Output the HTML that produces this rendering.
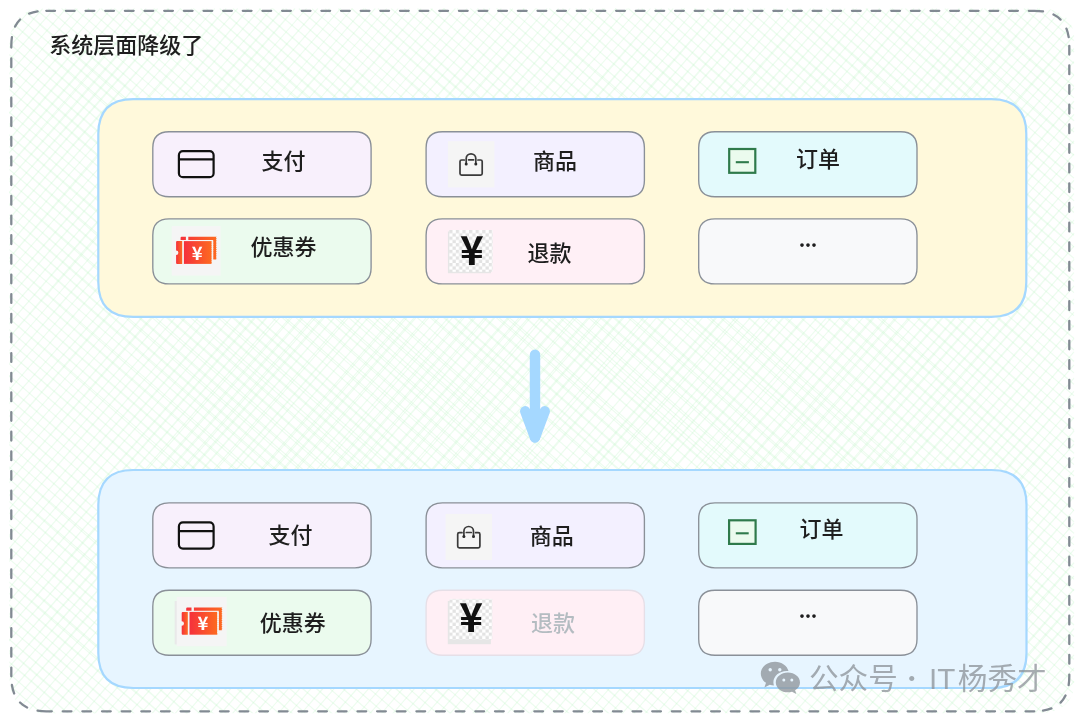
<!DOCTYPE html>
<html lang="zh-CN">
<head>
<meta charset="utf-8">
<title>系统层面降级了</title>
<style>
html,body{margin:0;padding:0;background:#fff;}
body{width:1080px;height:722px;overflow:hidden;font-family:"Liberation Sans","Noto Sans CJK SC",sans-serif;}
svg{display:block;will-change:transform;}
text{font-family:"Liberation Sans","Noto Sans CJK SC",sans-serif;}
.dots{font-family:"Noto Sans CJK SC",sans-serif;font-weight:700;letter-spacing:-0.6px;font-size:20px;}
.yen{font-family:"Noto Sans CJK SC",sans-serif;}
</style>
</head>
<body>
<svg width="1080" height="722" viewBox="0 0 1080 722">
<defs>
  <pattern id="checker" x="449.2" y="230" width="6.6" height="6.6" patternUnits="userSpaceOnUse">
    <rect width="6.6" height="6.6" fill="#ffffff"/>
    <rect width="3.3" height="3.3" fill="#e3e3e3"/>
    <rect x="3.3" y="3.3" width="3.3" height="3.3" fill="#e3e3e3"/>
  </pattern>
  <linearGradient id="tk" x1="0" y1="0" x2="1" y2="0">
    <stop offset="0" stop-color="#f5303c"/>
    <stop offset="1" stop-color="#fd6a20"/>
  </linearGradient>
</defs>
<!-- outer frame -->
<clipPath id="fclip"><path d="M46.3 8.3L1038.3 8.3Q1075.3 8.3 1075.3 45.3L1075.3 676.3Q1075.3 713.3 1038.3 713.3L46.3 713.3Q9.3 713.3 9.3 676.3L9.3 45.3Q9.3 8.3 46.3 8.3Z"/></clipPath>
<g id="frame" clip-path="url(#fclip)" fill="none" stroke="#b2f2bb" stroke-opacity="0.23" stroke-width="1.1">
<path d="M1063.5 8.4Q1067.4 11.9 1074 17.7M1063.5 8.5Q1068.8 13.1 1074.1 17.6M1050.3 8.5Q1059.5 16 1074.1 29M1050.3 8.6Q1060.2 17 1074.1 29M1037.1 8.6Q1054.3 23.6 1074 40.6M1037.2 8.4Q1052.9 22.9 1073.9 40.6M1024 8.4Q1054.1 34 1074 52M1023.9 8.5Q1047.4 28.2 1074 52M1010.8 8.4Q1036.7 31.2 1074.1 63.4M1010.8 8.5Q1043.8 37.7 1074 63.4M997.6 8.5Q1040.4 45.6 1074 75M997.6 8.5Q1044.8 48.8 1074 74.9M984.4 8.5Q1018.5 39 1073.9 86.5M984.3 8.5Q1029 47 1074.1 86.3M971.2 8.5Q1025.8 54.1 1074 97.9M971.2 8.5Q1024.8 56.6 1074 97.9M958 8.5Q1031.3 72.6 1073.9 109.4M958 8.5Q1023.1 64.9 1074.1 109.2M944.8 8.6Q1000.7 57.8 1073.9 120.8M944.8 8.5Q1008.2 63 1074.1 120.7M931.7 8.4Q1015.2 79.3 1074.1 132.2M931.7 8.5Q1019.7 83 1074 132.2M918.5 8.5Q1015.4 90.2 1074 143.7M918.4 8.6Q991.3 73.8 1074 143.7M905.2 8.6Q972.4 66 1073.9 155.3M905.3 8.5Q989.9 80 1074 155.1M892.1 8.5Q978.3 84.1 1074.1 166.5M892.1 8.5Q993.9 96.1 1073.9 166.7M878.9 8.5Q950.3 70.7 1074 178.1M878.9 8.6Q992.6 110 1073.9 178.2M865.7 8.5Q978.6 105.9 1074.1 189.5M865.8 8.4Q950.3 79 1074 189.5M852.6 8.4Q940.7 84 1074.1 200.9M852.6 8.5Q989.5 124.8 1074.1 200.9M839.4 8.4Q945.5 101.6 1074 212.4M839.4 8.4Q991.9 140.1 1073.9 212.5M826.2 8.5Q920.6 90.4 1074.1 223.9M826.2 8.5Q925.5 93.7 1073.9 224M812.9 8.6Q917.5 95.9 1074 235.4M813.1 8.4Q980.8 154.7 1074 235.4M799.8 8.5Q924.6 119.6 1074 246.8M799.8 8.5Q961 146.3 1074 246.9M786.7 8.4Q972.7 169.1 1074 258.4M786.6 8.6Q949.7 152.8 1073.9 258.4M773.4 8.5Q882.2 101.1 1074 269.8M773.5 8.5Q942.7 152.3 1074 269.7M760.3 8.5Q961.5 186.6 1073.9 281.3M760.3 8.5Q889.8 124.3 1074 281.2M747.1 8.4Q950.8 183.6 1074 292.7M747.1 8.5Q938.8 177.5 1074 292.7M733.8 8.5Q934.1 179.8 1073.9 304.2M733.9 8.5Q932.6 182.9 1074.1 304.1M720.6 8.6Q886.8 151.9 1073.9 315.7M720.6 8.6Q862.7 131.3 1074 315.7M707.6 8.4Q925.6 195.8 1073.9 327.2M707.5 8.6Q909.1 181.6 1073.9 327.2M694.3 8.5Q829.3 124.9 1074.1 338.5M694.3 8.5Q932.2 218 1074 338.6M681.1 8.6Q843.7 149.4 1073.9 350.1M681.2 8.5Q888.5 187.2 1074 350M668 8.5Q921.7 227.5 1074.1 361.4M668 8.5Q920.7 227.3 1074 361.5M654.7 8.6Q868.6 193.9 1074 372.9M654.8 8.4Q824.5 156.2 1074 372.9M641.5 8.6Q856 191.6 1074.1 384.3M641.6 8.5Q859.4 199.4 1074 384.4M628.4 8.6Q859.1 209.4 1074.1 395.8M628.4 8.5Q853.1 202.1 1074 395.9M615.2 8.5Q836.6 201.4 1073.9 407.4M615.2 8.5Q870.7 231.4 1074 407.3M602 8.5Q900.7 267.8 1074 418.8M602 8.6Q803.2 184.9 1073.9 418.9M588.8 8.6Q778.4 173.7 1073.9 430.3M588.9 8.5Q795.1 184.9 1074.1 430.2M575.6 8.5Q885.8 274.8 1074 441.8M575.6 8.5Q772.8 177.2 1074 441.7M562.4 8.6Q886.2 292.9 1074 453.1M562.5 8.5Q869.7 274.7 1073.9 453.3M549.3 8.5Q787.7 213 1074 464.6M549.3 8.5Q737.2 169.4 1074 464.7M536.1 8.5Q777.6 218.9 1074.1 476M536.1 8.5Q882.8 310.9 1074.1 476M522.8 8.6Q758.5 215.7 1074.1 487.5M522.9 8.6Q739.2 192.5 1074 487.5M509.7 8.6Q751.3 217.8 1073.9 499.1M509.7 8.6Q827.3 281.5 1074 499M496.6 8.4Q774.2 246.1 1074 510.5M496.5 8.6Q839.4 302.7 1074 510.5M483.3 8.6Q844.9 318.9 1074.1 521.9M483.4 8.5Q854.5 330.7 1074 521.9M470.2 8.4Q725.8 228.5 1074 533.4M470.2 8.4Q719.9 221.9 1074.1 533.3M457 8.5Q727.5 241.8 1074 544.9M457 8.4Q676.3 199.1 1074 544.8M443.9 8.4Q769.8 289.4 1074 556.4M443.8 8.5Q686 216 1073.9 556.4M430.6 8.5Q815.3 346.1 1074 567.8M430.6 8.5Q846 368.5 1074 567.8M417.4 8.6Q773.3 316.2 1074 579.3M417.5 8.5Q673.3 229.9 1074.1 579.2M404.2 8.5Q673.7 238.2 1074 590.7M404.2 8.6Q775.5 326.9 1073.9 590.8M391.1 8.5Q725.4 296.8 1074 602.1M391.1 8.5Q829 385.5 1074 602.1M377.9 8.5Q820.6 398.5 1074 613.6M377.9 8.5Q702.2 288.4 1074.1 613.5M364.7 8.5Q720.5 317.5 1074 625M364.7 8.5Q700.7 295.1 1074.1 625M351.6 8.4Q657.4 269.2 1074 636.5M351.5 8.5Q746.4 352.8 1074 636.6M338.3 8.6Q666.6 296.3 1074 648M338.4 8.4Q735 358.9 1074 648M325.1 8.6Q730.8 355.8 1073.9 659.5M325.1 8.6Q703.6 340.2 1074.1 659.4M311.9 8.6Q767.6 404.6 1074 671M311.9 8.6Q736.7 378.7 1074 671M298.9 8.4Q655.6 315.4 1074.1 682.3M298.7 8.6Q718.5 368.6 1074 682.4M285.6 8.5Q561.5 249.9 1074 693.9M285.6 8.5Q686.3 360.5 1074 693.9M272.5 8.4Q612.6 306.2 1074 705.4M272.4 8.5Q605 292.3 1074 705.4M259.1 8.6Q634.9 338.1 1070.8 714M259.2 8.5Q693.6 385.9 1070.8 714M246.1 8.4Q591 310.2 1057.7 713.9M246.1 8.5Q531.6 259.8 1057.6 714M232.9 8.5Q688.2 398.8 1044.4 714M232.9 8.5Q628.9 355 1044.4 714M219.7 8.4Q552.4 297.4 1031.2 714.1M219.6 8.6Q612.5 356 1031.3 713.9M206.4 8.6Q553.9 314.6 1018.1 714M206.4 8.6Q633.9 376.4 1018.1 713.9M193.3 8.5Q511.9 280.9 1004.8 714.1M193.3 8.5Q646.6 406.6 1004.8 714.1M180.1 8.6Q471.9 258.7 991.7 714M180.1 8.5Q540.8 315.8 991.7 714M167 8.5Q657.8 430.7 978.5 714M166.9 8.5Q483.3 277.2 978.5 714.1M153.7 8.5Q505.7 319.8 965.3 714.1M153.8 8.5Q582 379.2 965.3 714.1M140.6 8.5Q437.2 264.6 952.2 714M140.5 8.6Q654.9 450.6 952.2 714M127.4 8.5Q459.2 293.8 939 714M127.3 8.6Q609.9 426.4 938.9 714.1M114.1 8.6Q531.1 372.6 925.7 714.1M114.3 8.4Q506.6 352.4 925.7 714M101 8.5Q395.4 267.6 912.6 714M101.1 8.4Q466.1 331.2 912.6 714M87.8 8.5Q436.5 309 899.3 714.1M87.9 8.5Q466.9 340 899.4 714M74.7 8.4Q581.4 444.8 886.3 713.9M74.7 8.4Q601.3 466.3 886.2 714.1M61.5 8.4Q367.9 274.3 873.1 713.9M61.5 8.4Q409.4 309 873.1 714M48.2 8.6Q432.4 343.3 859.8 714M48.3 8.5Q415.2 326.4 859.9 714M35.1 8.5Q352.5 278.9 846.6 714.1M35.1 8.5Q371.7 301.2 846.6 714.1M21.9 8.5Q415.9 348.1 833.5 714M21.8 8.6Q308.4 263.3 833.4 714.1M8.7 8.5Q410.9 352.2 820.2 714.1M8.8 8.4Q517.9 452.2 820.3 714M7.9 19.4Q345.2 316.6 807 714.1M8.1 19.3Q453.6 401.8 807.1 714M8 30.8Q460.7 429.8 793.9 714M8 30.8Q467.8 430 794 713.9M7.9 42.3Q350.5 336.8 780.7 714M8 42.2Q442.6 415.6 780.7 714M8.1 53.6Q408.9 397.7 767.6 714M8 53.7Q276.9 286.1 767.5 714M8 65.2Q414.7 416.4 754.3 714.1M8 65.2Q322.3 342.9 754.4 714M8 76.7Q266.8 306.9 741.2 714M8 76.7Q321.2 348.9 741.2 714M7.9 88.2Q266.4 314.6 728 714M8 88.1Q303.7 343.3 728 714M8 99.6Q297.3 354.3 714.8 714M8 99.5Q301.8 360.1 714.8 714.1M8 111.1Q450.4 492.5 701.7 714M8 111Q337.6 397.5 701.7 713.9M7.9 122.6Q325.6 400.3 688.5 713.9M7.9 122.6Q258.2 337 688.5 713.9M8 133.9Q420.7 488.1 675.2 714.1M7.9 134Q306.2 395.6 675.2 714.1M7.9 145.5Q244.8 348 662 714M8 145.4Q301.2 402 662.1 714M8.1 156.8Q301.5 408.7 648.9 714M8.1 156.8Q269.9 389.1 648.8 714.1M7.9 168.4Q309.8 429.3 635.7 714.1M8 168.3Q403 507.3 635.7 714M8 179.8Q230.1 369.9 622.5 714.1M8 179.9Q231 372.8 622.5 714M8.1 191.2Q267 412 609.3 714.1M7.9 191.3Q266.4 418.2 609.4 714M8 202.7Q338.2 494 596.2 714M8 202.7Q348 496.6 596.2 713.9M8 214.2Q211.6 394.9 582.9 714.1M8 214.2Q375 530.8 582.9 714.1M8 225.6Q288.3 468.3 569.8 714M8 225.6Q327.2 506.9 569.7 714.1M8 237.2Q252.6 452.5 556.6 714M8 237.1Q213.8 414.4 556.6 714.1M8 248.6Q207 419.1 543.5 714M8 248.6Q354.8 546.1 543.4 714M7.9 260.1Q202.4 432.2 530.3 714M8 260Q262.4 477.9 530.2 714M8 271.5Q290.2 514.7 517 714M7.9 271.6Q203.7 443.6 517 714M8 282.9Q235.7 483.6 503.9 714M8 282.9Q217.1 466.6 503.9 714M7.9 294.5Q225.5 480.9 490.7 714M7.9 294.5Q210.8 469.9 490.7 714M8 305.9Q185.6 462.5 477.4 714.1M7.9 305.9Q301.2 560.6 477.4 714.1M8 317.3Q195.3 476.9 464.4 713.9M8 317.4Q217 502.4 464.2 714.1M8 328.8Q265.2 554.9 451.2 714M8.1 328.7Q244 537 451.1 714M8 340.2Q185.7 492.9 438 713.9M8 340.3Q185.5 492.9 437.9 714M8 351.7Q178.6 496.8 424.7 714M8 351.7Q223 537.4 424.7 714.1M8.1 363.1Q217.2 542.3 411.6 714M8.1 363.1Q233 559.7 411.6 713.9M8 374.6Q256.5 590.1 398.4 714M8 374.7Q194 535.2 398.4 714M7.9 386.2Q161.3 521.5 385.2 714M8 386.1Q241.4 590.3 385.3 713.9M7.9 397.6Q232 591.9 372 714M8.1 397.5Q195.8 560.5 372.1 713.9M7.9 409.1Q195.8 573.2 358.9 713.9M8 409Q161 541.2 358.9 713.9M7.9 420.6Q175.8 566.5 345.7 713.9M7.9 420.6Q138 535.5 345.7 713.9M7.9 432Q125.3 536.9 332.5 714M8 431.9Q180.5 584.8 332.4 714.1M8.1 443.4Q136.6 557.4 319.2 714.1M7.9 443.5Q134.4 552.6 319.2 714.1M8 454.9Q147.6 574.2 306.1 714M8 454.8Q193.9 613.8 306.1 714M8 466.3Q112.6 554 292.9 714M8.1 466.3Q153.5 595.3 292.9 714M8 477.8Q150.1 602.3 279.7 714M8 477.8Q139.1 591.2 279.7 714M8 489.3Q118.4 581.8 266.5 714M8 489.3Q111.5 581.1 266.5 714M8.1 500.6Q125.7 602.8 253.4 713.9M8 500.7Q98.3 576.3 253.3 714M8.1 512.1Q142.9 630.5 240.1 714M8.1 512.1Q115.5 605.7 240.2 714M8.1 523.6Q148.5 649 226.9 714.1M8 523.7Q148.3 647.3 227 713.9M7.9 535.2Q90.2 606.5 213.7 714.1M7.9 535.2Q100.7 617.7 213.9 713.9M8.1 546.5Q90.5 620 200.5 714.1M8.1 546.5Q127.5 652.6 200.6 714M8 558Q88.9 626.5 187.4 714M8.1 558Q122.7 654.7 187.5 713.9M7.9 569.6Q104.8 654.7 174.3 713.9M8 569.5Q85.3 634.3 174.2 714M8 581Q101 664 161 714M7.9 581Q80.8 641.9 161 714M8 592.4Q80.4 657 147.8 714.1M8 592.5Q64.7 641 147.9 714M8.1 603.8Q61.4 651.5 134.6 714.1M7.9 604Q77.2 664.7 134.7 714M8.1 615.2Q53.2 653.8 121.6 713.9M8 615.3Q78 676.7 121.5 714M8 626.7Q44.5 657.1 108.3 714M8 626.8Q54.8 665.6 108.4 713.9M8 638.3Q44.3 668.9 95.1 714M8 638.3Q62.8 686.3 95.2 713.9M8.1 649.7Q48.4 684.1 82 713.9M8 649.8Q39.2 677.9 82 714M8 661.2Q36.2 684.6 68.8 714M8 661.2Q42.5 691.5 68.7 714.1M7.9 672.7Q32.5 693.4 55.7 713.9M8 672.6Q35.9 696.7 55.6 713.9M8 684.1Q21.8 695.5 42.3 714.1M8 684.1Q26.9 700.1 42.4 714M8.1 695.5Q17.2 703.8 29.2 714M7.9 695.6Q20.2 705.8 29.2 714.1M7.9 707.1Q12 710.4 16 714M8 707Q11 709.7 16.1 714"/>
<path d="M1074.1 707.8Q1070.9 711.4 1068.6 714M1073.9 707.7Q1071.6 710.4 1068.5 714M1074 694.6Q1065.4 704.4 1057.1 714M1074 694.6Q1067.1 702.7 1057 713.9M1074.1 681.5Q1061.8 694.9 1045.7 714M1073.9 681.3Q1061.1 695.9 1045.6 714M1074 668.2Q1048.8 696.4 1034.3 714M1074 668.2Q1048.3 697.6 1034.2 714M1073.9 655Q1042.9 690.9 1022.7 714M1074 655Q1051.4 681.2 1022.7 714M1074 641.8Q1035.4 687.2 1011.4 714.1M1074.1 641.9Q1035.1 687.7 1011.4 714.1M1074.1 628.7Q1047.4 659.9 999.9 714.1M1074 628.6Q1031.3 677.1 999.8 714M1074 615.5Q1024 675 988.4 714M1073.9 615.4Q1021 675 988.4 714.1M1073.9 602.2Q1033 647.4 977 714.1M1074.1 602.4Q1017.3 669.4 976.8 713.9M1073.9 589.1Q1026.3 643.3 965.4 714M1074.1 589.2Q1030.4 641.5 965.4 714M1074 575.9Q1023.3 635.4 954.1 714.1M1074 575.9Q1021.1 638.1 954 714M1074 562.7Q1002 642.4 942.4 713.9M1074 562.8Q999.1 652.1 942.5 714M1074 549.5Q1015.2 618.3 931 714M1074.1 549.6Q1015.4 614.4 931 713.9M1074.1 536.4Q976.5 652.2 919.5 714M1074 536.4Q984.9 642.6 919.6 714M1074 523.2Q975.7 638.6 908.2 714M1073.9 523.1Q1006.2 603.1 908.2 714M1074 510Q977.3 619.7 896.7 714.1M1073.9 510Q971.7 631 896.6 714M1074 496.8Q985.1 598.1 885.2 714M1074.1 496.9Q1004.9 573.1 885.1 713.9M1074 483.7Q975 599.9 873.7 713.9M1073.9 483.6Q976.7 596.5 873.8 714M1074 470.4Q958.7 602.8 862.2 714M1074 470.5Q947 617.8 862.3 714.1M1074 457.2Q965.8 580.3 850.9 714.1M1074 457.3Q963.8 581.7 850.9 714.1M1074 444.1Q969.1 561.6 839.4 714M1073.9 444Q980.1 550.5 839.4 714.1M1074 430.9Q977 544.5 827.9 714M1074.1 430.9Q934.8 592.5 827.8 713.9M1073.9 417.6Q955.8 557 816.5 714.1M1073.9 417.7Q948.3 558.4 816.4 714M1074 404.5Q964.4 533.1 805 714.1M1074.1 404.6Q916.4 586.7 805 714M1074 391.3Q936.1 548.5 793.5 714M1074 391.3Q914.9 577.2 793.5 714M1074 378.2Q904.7 569.8 782 714M1074 378.2Q895 584.6 782 714M1074 364.9Q904.9 557.4 770.5 713.9M1074 365Q910.1 552.5 770.6 714M1074 351.8Q897.9 557.3 759.1 714M1074 351.8Q920.3 527.6 759.1 714M1074 338.6Q868.3 574.4 747.6 714M1074 338.6Q922.8 514.7 747.6 714M1073.9 325.3Q900.7 524.8 736.3 714.1M1073.9 325.4Q904.3 523 736.1 713.9M1074 312.2Q878 540.5 724.7 714M1074 312.2Q897.1 515.7 724.7 713.9M1073.9 299Q874 529.8 713.3 714M1074 299Q841.6 567.2 713.4 714.1M1074.1 285.9Q899.7 487.5 701.9 714M1074 285.9Q867.6 527 701.8 714M1074 272.7Q855 525.8 690.4 714M1074 272.7Q845.8 531.8 690.4 714M1074.1 259.5Q844.1 524.8 679 714.1M1074 259.5Q867.8 494.1 678.9 714M1073.9 246.2Q854.9 500.6 667.5 714M1073.9 246.3Q894.5 450.1 667.4 714M1074.1 233.2Q883 452.4 655.9 713.9M1074 233.2Q894.4 436.7 656 714M1074.1 220Q831 500.1 644.6 714.1M1074 220Q862.9 464.8 644.6 714M1074 206.7Q872 439.7 633 714M1073.9 206.7Q808.2 508.6 633.1 714.1M1073.9 193.5Q801 503.9 621.7 714.1M1074.1 193.6Q785.9 523.8 621.7 714.1M1074 180.4Q891 389.4 610.2 714.1M1073.9 180.3Q891.7 392.7 610.2 714M1073.9 167.2Q778.6 503.1 598.7 714.1M1073.9 167.2Q779.6 504.8 598.6 714M1073.9 154Q801 465.1 587.3 714M1074 154Q774.6 498.2 587.2 714M1074 140.9Q878.5 365.2 575.8 714M1074.1 140.9Q878.1 366.3 575.8 714M1074 127.6Q763.7 484.7 564.3 714M1073.9 127.6Q812.1 434.1 564.3 714M1073.9 114.4Q825.2 398.9 552.8 714M1074.1 114.5Q789.7 436.6 552.8 714M1074 101.3Q741.3 489.2 541.3 714M1073.9 101.2Q811.1 405.6 541.4 714M1074.1 88.2Q779.3 422.6 529.9 714M1073.9 88Q807 397 529.9 714M1074 74.9Q806.9 381.9 518.5 714M1074 74.9Q831.2 355.1 518.4 713.9M1074 61.7Q827.4 341.5 507 714M1073.9 61.6Q740.8 445 507 714M1074 48.6Q770.8 399.4 495.6 714M1073.9 48.5Q745.3 425 495.6 714.1M1074 35.3Q812 332 484.1 714.1M1074.1 35.4Q762.8 399.4 484 713.9M1073.9 22.1Q752.2 390.4 472.5 713.9M1074 22.1Q755.2 387.4 472.6 714M1074.1 9Q774.2 351.6 461.1 714M1074.1 9Q851.1 262.1 461.2 714.1M1062.9 8.4Q778.7 332 449.6 714M1062.9 8.5Q798.8 308.3 449.7 714M1051.5 8.5Q758.9 347.7 438.2 714M1051.4 8.4Q731.5 374.8 438.3 714.1M1040.1 8.6Q722.4 379.7 426.7 714M1040 8.5Q751.5 335.1 426.8 714.1M1028.5 8.4Q725.9 355.6 415.2 713.9M1028.6 8.6Q775.4 300.8 415.3 714M1017.2 8.6Q678.8 402 403.9 714.1M1017 8.4Q644.9 441.5 403.9 714.1M1005.7 8.6Q748.8 308.7 392.3 714M1005.7 8.5Q647.1 418 392.4 714.1M994.1 8.4Q762.7 272.1 380.9 714M994.2 8.5Q607.2 452.1 380.9 714M982.6 8.4Q767.5 259.2 369.4 714M982.7 8.5Q756.5 274.9 369.4 714M971.2 8.5Q599.4 438.7 358 714.1M971.3 8.6Q650.9 377.2 358 714M959.8 8.5Q598.8 424.5 346.6 714.1M959.8 8.5Q669.1 344.6 346.5 714M948.3 8.5Q590.1 422.1 335 713.9M948.4 8.5Q554.1 461.2 335.1 714.1M936.8 8.4Q609.5 382.5 323.6 714M936.8 8.4Q662.5 318.1 323.6 714M925.3 8.4Q585.2 400.8 312.2 714M925.3 8.4Q658 314.8 312.1 714M914 8.5Q594.5 382.3 300.7 714M913.9 8.4Q544 430.1 300.8 714.1M902.4 8.4Q635.5 311.7 289.2 714M902.4 8.5Q517.5 446.9 289.2 714M891.1 8.6Q530.6 425 277.7 714M891 8.5Q635.2 306.6 277.7 713.9M879.5 8.5Q626.2 298.6 266.3 714M879.5 8.5Q581.9 354.1 266.2 714M868.1 8.5Q613.2 307 254.8 714M868 8.4Q557 365.4 254.8 713.9M856.6 8.5Q606.8 296.3 243.4 714M856.6 8.5Q540.2 376.6 243.4 714M845.2 8.5Q622.9 265.4 232 714.1M845.2 8.5Q511 386.6 232 714.1M833.8 8.6Q553.8 326.9 220.4 714M833.8 8.6Q436.7 464.9 220.5 714.1M822.3 8.5Q557.2 308.8 209 714M822.3 8.5Q464.7 416.3 208.9 713.9M810.7 8.4Q587.2 261.7 197.6 714M810.9 8.6Q588.7 267.8 197.6 714.1M799.3 8.4Q410.1 455.6 186.1 714M799.4 8.6Q509 337.3 186 714M787.8 8.4Q471.8 377 174.6 714M787.8 8.4Q500 337.9 174.6 714M776.5 8.6Q379.6 465.6 163.1 713.9M776.5 8.6Q498.8 331.4 163.2 714M764.9 8.4Q539.1 263.2 151.6 713.9M764.9 8.5Q367.2 462.4 151.7 714M753.6 8.6Q368.8 456.7 140.2 714M753.5 8.5Q398.3 414.9 140.2 714M742.1 8.5Q507 283.9 128.8 714M742.1 8.6Q501.2 285.8 128.8 714M730.7 8.6Q478.9 295.8 117.3 714M730.5 8.4Q347 455.6 117.3 714M719 8.4Q419.9 348.1 105.9 714.1M719 8.4Q391.4 390.6 105.8 713.9M707.7 8.5Q405.4 356.8 94.3 713.9M707.7 8.6Q481.8 266.7 94.4 714M696.2 8.5Q320 438.5 83 714.1M696.2 8.5Q433.1 314.1 83 714.1M684.8 8.5Q377.6 357.5 71.5 714.1M684.7 8.4Q291.2 463.5 71.5 714.1M673.2 8.4Q422.6 302.5 60 714M673.3 8.5Q421.7 298.2 60 714M661.7 8.4Q277.8 452 48.4 713.9M661.8 8.5Q439.1 269.8 48.5 713.9M650.4 8.5Q431.3 257.6 37 713.9M650.4 8.5Q433.4 254.2 37.1 714.1M638.9 8.5Q342.1 345.7 25.7 714M638.9 8.5Q396.3 282.4 25.6 714M627.4 8.5Q378.6 298.8 14.1 714M627.5 8.6Q324.3 362.6 14.1 714M616 8.5Q275.5 403 8 707.9M615.9 8.5Q389.3 265.4 8.1 707.9M604.5 8.5Q384.4 258.8 8 694.7M604.5 8.5Q239.1 425 7.9 694.6M593.1 8.6Q304.7 340.3 7.9 681.4M593.1 8.5Q240.1 410 8.1 681.6M581.6 8.6Q279.2 357.9 8 668.3M581.6 8.5Q295 344 8 668.3M570.1 8.5Q229.6 404.6 7.9 655.1M570.1 8.5Q247.7 381.5 8 655.2M558.6 8.4Q286.7 326.4 7.9 641.9M558.7 8.5Q362.4 234.1 8 642M547.2 8.5Q339.3 242.5 8.1 628.8M547.1 8.5Q344.2 244.7 8.1 628.8M535.8 8.5Q255.1 329.2 8.1 615.7M535.7 8.5Q334.3 239.4 8 615.6M524.2 8.5Q322.6 236.6 8.1 602.5M524.3 8.5Q324.7 238.1 8 602.4M512.9 8.6Q206.2 362.2 8 589.2M512.8 8.5Q313.1 242 8 589.2M501.3 8.4Q264.8 277.3 8 576.1M501.3 8.5Q187.6 365.9 8 576.1M489.9 8.5Q271.4 257.1 8 562.9M489.8 8.4Q189.6 354.6 7.9 562.8M478.4 8.4Q239.2 280.6 8.1 549.7M478.3 8.4Q252 264.5 8 549.7M467 8.5Q296.2 203.7 8 536.5M467 8.5Q287.4 215.6 8.1 536.6M455.5 8.5Q211.7 284.6 7.9 523.2M455.4 8.4Q292.8 192.8 7.9 523.2M444.1 8.5Q255 224.7 8 510.1M444 8.4Q258.5 221.6 8 510.1M432.6 8.5Q247.3 221.5 7.9 496.9M432.6 8.5Q209.1 267.3 8.1 497M421.1 8.5Q216.8 239.7 8 483.8M421.2 8.6Q260.1 193.4 8.1 483.8M409.7 8.5Q240.6 204.7 8 470.6M409.7 8.5Q197.3 256.2 7.9 470.5M398.2 8.5Q178.2 261 8.1 457.4M398.2 8.5Q206.9 228.9 8 457.4M386.8 8.5Q196.7 228.6 8.1 444.2M386.7 8.5Q214.6 207.5 8.1 444.3M375.3 8.5Q191.2 217.5 8 431M375.2 8.4Q162.5 254.9 8 431M363.9 8.6Q193.6 206.9 7.9 417.8M363.8 8.5Q162.4 243.5 8 417.8M352.4 8.5Q156.9 236.1 7.9 404.6M352.4 8.5Q163.3 228.5 8 404.7M340.8 8.4Q172.3 201.7 7.9 391.4M340.8 8.5Q176.1 196.4 8 391.4M329.4 8.5Q203.7 151.2 7.9 378.2M329.5 8.6Q159.2 201.8 8 378.2M317.9 8.4Q170.6 178 8 365.1M317.9 8.4Q173.2 173 8 365.1M306.5 8.5Q176 159 8 351.9M306.5 8.5Q173.6 162.2 8 351.9M295 8.4Q155.2 167.1 8 338.7M295.1 8.5Q146.2 182.1 8.1 338.8M283.7 8.6Q160 150 7.9 325.5M283.5 8.4Q168.9 137.7 7.9 325.5M272 8.4Q176.2 119.4 8.1 312.4M272.1 8.5Q118.1 185.1 7.9 312.3M260.6 8.4Q132.9 155.2 8 299.2M260.7 8.5Q126.4 161.4 8 299.2M249.1 8.4Q127.4 149.9 8 285.9M249.2 8.5Q125.8 153.8 8 286M237.7 8.4Q123.5 139.3 7.9 272.7M237.7 8.5Q133.9 128.4 7.9 272.7M226.2 8.5Q128.9 120.2 8.1 259.7M226.2 8.4Q140.7 103 8 259.6M214.8 8.5Q79.4 161.1 7.9 246.4M214.8 8.5Q122.9 111.1 8.1 246.5M203.4 8.5Q124.2 99.4 8.1 233.3M203.3 8.5Q76.2 153.7 8 233.3M192 8.6Q83.5 132.1 8 220.1M191.9 8.5Q111.5 102.5 8.1 220.1M180.4 8.5Q108.6 88.5 8 206.8M180.4 8.5Q86.6 116.4 8 206.9M168.9 8.4Q92.7 96 8 193.7M169 8.6Q108.9 80.5 8 193.6M157.6 8.6Q69.7 112.4 8 180.5M157.5 8.5Q104.2 69 8.1 180.6M146.1 8.5Q82.1 80.1 8 167.3M146.1 8.5Q61.4 108.1 8.1 167.4M134.6 8.5Q75.4 76.1 8 154.1M134.5 8.4Q55.3 102.6 8 154.1M123.1 8.5Q81.5 56.8 8 141M123.1 8.4Q50.5 89.5 8 141M111.7 8.5Q44.7 83.9 8 127.7M111.6 8.4Q63.3 64.2 8 127.8M100.3 8.5Q43.2 73 8 114.6M100.1 8.5Q63.2 51.2 8 114.6M88.8 8.5Q53.7 49.4 7.9 101.3M88.8 8.6Q51 51.6 8 101.4M77.4 8.6Q36 56.3 8.1 88.3M77.3 8.5Q47.4 43.4 8.1 88.2M65.9 8.6Q40 38.9 8 75M65.8 8.5Q41.4 37.6 8.1 75.1M54.4 8.6Q26.1 40.2 8 61.8M54.4 8.6Q27.7 38.4 8 61.9M42.8 8.4Q20.8 34.1 8.1 48.7M42.9 8.5Q29.3 24.1 8 48.6M31.5 8.5Q19 22.6 7.9 35.4M31.5 8.5Q21.8 19.7 8 35.4M20 8.6Q13.7 15.5 8 22.3M19.9 8.5Q13.5 16.1 8 22.3"/>
</g>
<path d="M46.3 10.8L1034.3 10.8M1034.3 10.8Q1069.3 10.8 1069.3 45.8M1069.3 45.8L1069.3 676.3M1069.3 676.3Q1069.3 711.3 1034.3 711.3M1034.3 711.3L46.3 711.3M46.3 711.3Q11.3 711.3 11.3 676.3M11.3 676.3L11.3 45.8M11.3 45.8Q11.3 10.8 46.3 10.8" fill="none" stroke="#828a93" stroke-width="2.3" stroke-dasharray="8.73 10.92" stroke-linecap="round"/>
<text x="49.3" y="52.8" font-size="22" fill="#1e1e1e" font-weight="500">系统层面降级了</text>

<!-- top panel -->
<path d="M133.3 99.1L991.3 99.1Q1026.3 99.1 1026.3 134.1L1026.3 281.9Q1026.3 316.9 991.3 316.9L133.3 316.9Q98.3 316.9 98.3 281.9L98.3 134.1Q98.3 99.1 133.3 99.1Z" fill="#fff9db" stroke="#a5d8ff" stroke-width="2.2"/>
<!-- bottom panel -->
<path d="M133.3 470L991.5 470Q1026.5 470 1026.5 505L1026.5 653Q1026.5 688 991.5 688L133.3 688Q98.3 688 98.3 653L98.3 505Q98.3 470 133.3 470Z" fill="#e7f5ff" stroke="#a5d8ff" stroke-width="2.2"/>


<!-- ===== top cards ===== -->
<g id="top" stroke="#8a9098" stroke-width="1.35">
  <path d="M169.05 131.7L354.85 131.7Q371.1 131.7 371.1 147.95L371.1 180.45Q371.1 196.7 354.85 196.7L169.05 196.7Q152.8 196.7 152.8 180.45L152.8 147.95Q152.8 131.7 169.05 131.7Z" fill="#f8f0fc"/>
  <path d="M442.35 131.7L628.15 131.7Q644.4 131.7 644.4 147.95L644.4 180.45Q644.4 196.7 628.15 196.7L442.35 196.7Q426.1 196.7 426.1 180.45L426.1 147.95Q426.1 131.7 442.35 131.7Z" fill="#f3f0ff"/>
  <path d="M714.95 131.7L900.75 131.7Q917 131.7 917 147.95L917 180.45Q917 196.7 900.75 196.7L714.95 196.7Q698.7 196.7 698.7 180.45L698.7 147.95Q698.7 131.7 714.95 131.7Z" fill="#e3fafc"/>
  <path d="M169.05 218.9L354.85 218.9Q371.1 218.9 371.1 235.15L371.1 267.65Q371.1 283.9 354.85 283.9L169.05 283.9Q152.8 283.9 152.8 267.65L152.8 235.15Q152.8 218.9 169.05 218.9Z" fill="#ebfbee"/>
  <path d="M442.35 218.9L628.15 218.9Q644.4 218.9 644.4 235.15L644.4 267.65Q644.4 283.9 628.15 283.9L442.35 283.9Q426.1 283.9 426.1 267.65L426.1 235.15Q426.1 218.9 442.35 218.9Z" fill="#fff0f6"/>
  <path d="M714.95 218.9L900.75 218.9Q917 218.9 917 235.15L917 267.65Q917 283.9 900.75 283.9L714.95 283.9Q698.7 283.9 698.7 267.65L698.7 235.15Q698.7 218.9 714.95 218.9Z" fill="#f8f9fa"/>
</g>
<g id="toptext" font-size="22" fill="#1e1e1e" font-weight="500">
  <text x="261.6" y="168.6">支付</text>
  <text x="533" y="168.8">商品</text>
  <text x="796" y="167">订单</text>
  <text x="250.4" y="255.3">优惠券</text>
  <text x="527.6" y="261.4">退款</text>
  <text class="dots" x="798.85" y="247.1">...</text>
</g>

<!-- top icons -->
<g id="ic-card-top" fill="none" stroke="#111111" stroke-width="2.2" stroke-linejoin="round">
  <rect x="178.9" y="151.1" width="34.7" height="26.1" rx="4"/>
  <path d="M178.9 159.4H213.6"/>
</g>
<g id="ic-bag-top">
  <rect x="447.9" y="141.2" width="46.5" height="46.2" fill="#f5f5f5"/>
  <g fill="none" stroke="#3a3a3a" stroke-width="1.7" stroke-linecap="round" stroke-linejoin="round">
    <path d="M464.3 160H461.6Q460 160 460 161.6V173.6Q460 175.2 461.6 175.2H480.6Q482.2 175.2 482.2 173.6V161.6Q482.2 160 480.6 160H477.9"/>
    <path d="M468.6 159.8H473.6"/>
    <path d="M466.2 163.7V158.6A4.8 4.8 0 0 1 475.8 158.6V163.7"/>
  </g>
  <circle cx="466.2" cy="163.9" r="1.5" fill="#2a2a2a"/>
  <circle cx="475.8" cy="163.9" r="1.5" fill="#2a2a2a"/>
</g>
<g id="ic-order-top">
  <rect x="729.2" y="149" width="26.1" height="23.8" fill="#ebfbee" stroke="#2f7a4b" stroke-width="2.2"/>
  <path d="M735.8 162.2H748.9" stroke="#2f7a4b" stroke-width="2.1" fill="none"/>
</g>
<g id="ic-coupon-top">
  <rect x="171.7" y="226.1" width="48.9" height="49.5" fill="#f5f5f5"/>
  <path d="M181.6 236.7H185.9V240H180.6V237.7Q180.6 236.7 181.6 236.7ZM188.3 236.7H216.7V259.4H213.2V240H188.3Z" fill="url(#tk)"/>
  <path d="M177.1 241.1H182.2V263.9H177.1Q176.1 263.9 176.1 262.9V255A2.3 2.3 0 0 0 176.1 250.4V242.1Q176.1 241.1 177.1 241.1Z" fill="url(#tk)"/>
  <path d="M183.9 241.1H211.7V263.9H183.9Z" fill="url(#tk)"/>
  <path d="M212.45 242V263.5" stroke="#f5f5f5" stroke-width="1.7" stroke-dasharray="0 2.15" stroke-linecap="round" fill="none"/>
  <path d="M216.9 237.6V259.2" stroke="#f5f5f5" stroke-width="1.7" stroke-dasharray="0 2.15" stroke-linecap="round" fill="none"/>
  <text class="yen" x="197.3" y="259.6" font-size="18.4" font-weight="bold" fill="#ffffff" text-anchor="middle">¥</text>
</g>
<g id="ic-yen-top">
  <rect x="447.9" y="231.5" width="43.1" height="41.7" fill="#e6e6e6"/>
  <rect x="449.2" y="230" width="43.6" height="41.8" fill="url(#checker)"/>
  <text class="yen" x="471.8" y="264.9" font-size="40.2" font-weight="bold" fill="#111111" text-anchor="middle">¥</text>
</g>

<!-- ===== bottom cards ===== -->
<g id="bot" stroke="#8a9098" stroke-width="1.35">
  <path d="M169.05 502.8L354.85 502.8Q371.1 502.8 371.1 519.05L371.1 551.55Q371.1 567.8 354.85 567.8L169.05 567.8Q152.8 567.8 152.8 551.55L152.8 519.05Q152.8 502.8 169.05 502.8Z" fill="#f8f0fc"/>
  <path d="M442.35 502.8L628.15 502.8Q644.4 502.8 644.4 519.05L644.4 551.55Q644.4 567.8 628.15 567.8L442.35 567.8Q426.1 567.8 426.1 551.55L426.1 519.05Q426.1 502.8 442.35 502.8Z" fill="#f3f0ff"/>
  <path d="M714.95 502.8L900.75 502.8Q917 502.8 917 519.05L917 551.55Q917 567.8 900.75 567.8L714.95 567.8Q698.7 567.8 698.7 551.55L698.7 519.05Q698.7 502.8 714.95 502.8Z" fill="#e3fafc"/>
  <path d="M169.05 590.2L354.85 590.2Q371.1 590.2 371.1 606.45L371.1 638.95Q371.1 655.2 354.85 655.2L169.05 655.2Q152.8 655.2 152.8 638.95L152.8 606.45Q152.8 590.2 169.05 590.2Z" fill="#ebfbee"/>
  <path d="M442.35 590.2L628.15 590.2Q644.4 590.2 644.4 606.45L644.4 638.95Q644.4 655.2 628.15 655.2L442.35 655.2Q426.1 655.2 426.1 638.95L426.1 606.45Q426.1 590.2 442.35 590.2Z" fill="#ffeff5" stroke="#e6dfe7"/>
  <path d="M714.95 590.2L900.75 590.2Q917 590.2 917 606.45L917 638.95Q917 655.2 900.75 655.2L714.95 655.2Q698.7 655.2 698.7 638.95L698.7 606.45Q698.7 590.2 714.95 590.2Z" fill="#f8f9fa"/>
</g>
<g id="bottext" font-size="22" fill="#1e1e1e" font-weight="500">
  <text x="268.6" y="543">支付</text>
  <text x="529.8" y="544.1">商品</text>
  <text x="799.6" y="536.7">订单</text>
  <text x="259.8" y="630.9">优惠券</text>
  <text x="531.1" y="631" fill="#b4bcc1">退款</text>
  <text class="dots" x="798.85" y="618.2">...</text>
</g>

<!-- bottom icons -->
<g id="ic-card-bot" fill="none" stroke="#111111" stroke-width="2.2" stroke-linejoin="round">
  <rect x="178.9" y="522.4" width="34.7" height="26.2" rx="4"/>
  <path d="M178.9 531.1H213.6"/>
</g>
<g id="ic-bag-bot" transform="translate(-2.3 372.7)">
  <rect x="447.9" y="141.2" width="46.5" height="46.2" fill="#f5f5f5"/>
  <g fill="none" stroke="#3a3a3a" stroke-width="1.7" stroke-linecap="round" stroke-linejoin="round">
    <path d="M464.3 160H461.6Q460 160 460 161.6V173.6Q460 175.2 461.6 175.2H480.6Q482.2 175.2 482.2 173.6V161.6Q482.2 160 480.6 160H477.9"/>
    <path d="M468.6 159.8H473.6"/>
    <path d="M466.2 163.7V158.6A4.8 4.8 0 0 1 475.8 158.6V163.7"/>
  </g>
  <circle cx="466.2" cy="163.9" r="1.5" fill="#2a2a2a"/>
  <circle cx="475.8" cy="163.9" r="1.5" fill="#2a2a2a"/>
</g>
<g id="ic-order-bot">
  <rect x="729.1" y="520.3" width="26.5" height="23.6" fill="#ebfbee" stroke="#2f7a4b" stroke-width="2.2"/>
  <path d="M735.8 533.3H748.7" stroke="#2f7a4b" stroke-width="2.1" fill="none"/>
</g>
<g id="ic-coupon-bot">
  <rect x="174.7" y="601" width="4" height="43.4" fill="#e9e9e9"/>
  <g transform="translate(5.6 370.8)">
  <rect x="171.1" y="226.1" width="50" height="49.3" fill="#f5f5f5"/>
  <path d="M181.6 236.7H185.9V240H180.6V237.7Q180.6 236.7 181.6 236.7ZM188.3 236.7H216.7V259.4H213.2V240H188.3Z" fill="url(#tk)"/>
  <path d="M177.1 241.1H182.2V263.9H177.1Q176.1 263.9 176.1 262.9V255A2.3 2.3 0 0 0 176.1 250.4V242.1Q176.1 241.1 177.1 241.1Z" fill="url(#tk)"/>
  <path d="M183.9 241.1H211.7V263.9H183.9Z" fill="url(#tk)"/>
  <path d="M212.45 242V263.5" stroke="#f5f5f5" stroke-width="1.7" stroke-dasharray="0 2.15" stroke-linecap="round" fill="none"/>
  <path d="M216.9 237.6V259.2" stroke="#f5f5f5" stroke-width="1.7" stroke-dasharray="0 2.15" stroke-linecap="round" fill="none"/>
  <text class="yen" x="197.3" y="259.6" font-size="18.4" font-weight="bold" fill="#ffffff" text-anchor="middle">¥</text>
  </g>
</g>
<g id="ic-yen-bot">
  <rect x="447.8" y="601" width="43.1" height="43.2" fill="#e6e6e6"/>
  <rect x="449.5" y="598.9" width="42.9" height="40.5" fill="url(#checker)"/>
  <text class="yen" x="471.2" y="632" font-size="40.2" font-weight="bold" fill="#111111" text-anchor="middle">¥</text>
</g>

<!-- arrow -->
<g id="arrow" stroke="#a5d8ff" fill="none" stroke-linecap="round" stroke-linejoin="round" stroke-width="10.4">
  <path d="M535 354.8V437.3"/>
  <path d="M525.2 411.3L535 437.5L544.8 411.3"/>
</g>
<!-- watermark -->
<g id="wm" fill="#8d9399" opacity="0.76">
  <path d="M775 661.7c-7.9 0-14.2 5.3-14.2 11.9c0 3.700 2 7 5.200 9.200l-1.600 4.700l5.400-2.800c1.400 0.400 2.600 0.600 4.100 0.700c-0.300-1-0.500-2-0.500-3.100c0-6.300 5.900-11.400 13.300-11.400c0.600 0 1.200 0 1.800 0.100c-1.300-5.300-6.900-9.300-13.500-9.300z"/>
  <path d="M800 682.400c0-5.500-5.400-9.900-12.100-9.900s-12.100 4.400-12.100 9.900s5.400 9.900 12.100 9.900c1.400 0 2.800-0.200 4.100-0.600l4.300 2.300l-1.200-3.800c3-1.800 4.900-4.600 4.900-7.800z"/>
  <g fill="#e7f5ff"><circle cx="770.200" cy="669.700" r="1.700"/><circle cx="779.800" cy="669.700" r="1.700"/><circle cx="783.800" cy="680" r="1.500"/><circle cx="791.800" cy="680" r="1.500"/></g>
  <text y="689.2" font-size="29.6"><tspan x="809">公众号</tspan><tspan x="929">IT</tspan><tspan x="957.8">杨秀才</tspan></text>
  <text class="yen" x="911.7" y="687" text-anchor="middle" font-size="24">·</text>
</g>

</svg>
</body>
</html>
